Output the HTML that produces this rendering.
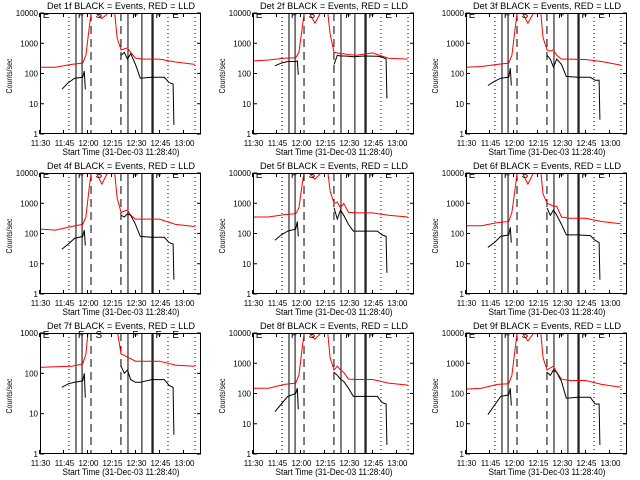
<!DOCTYPE html>
<html><head><meta charset="utf-8"><style>
html,body{margin:0;padding:0;background:#fff;}
svg{display:block;font-family:"Liberation Sans",sans-serif;}
</style></head><body>
<svg id="chart" width="640" height="480" viewBox="0 0 640 480">
<rect x="0" y="0" width="640" height="480" fill="#fff"/>
</svg>
<script>
const detNames = ["1f","2f","3f","4f","5f","6f","7f","8f","9f"];
const yMaxDec = [4,4,4,4,4,4,3,4,4];
const xTickLabels = ["11:30","11:45","12:00","12:15","12:30","12:45","13:00"];
const xTickMins = [0,15,30,45,60,75,90];
const redT = [0,10,20,27,29,31,33,36,39,42,45,46.5,48.5,51,53,55,57,60,65,75,85,97];
const red1 = [160,160,200,220,400,3000,20000,9000,6600,9000,20000,20000,1500,600,650,700,500,320,300,300,240,200];
const red2 = [260,280,320,330,500,3000,20000,9000,4600,9000,20000,20000,2000,500,480,450,450,420,400,480,320,300];
const red3 = [160,170,200,220,400,3000,20000,9000,4600,9000,20000,20000,1500,600,550,600,400,300,300,290,250,190];
const red4 = [140,130,170,200,350,3000,20000,9000,4300,9000,20000,20000,1500,500,550,600,400,300,300,300,200,170];
const red5 = [350,350,420,450,700,4000,20000,9000,6300,9000,20000,20000,2500,1000,1100,700,1000,500,480,480,400,350];
const red6 = [180,180,230,250,500,3000,20000,9000,4300,9000,20000,20000,2000,1000,900,800,800,350,320,320,250,210];
const red7 = [140,145,150,170,300,2000,20000,9000,6000,9000,20000,20000,1200,300,280,250,230,200,200,200,160,150];
const red8 = [150,150,200,220,400,3000,20000,9000,6300,9000,20000,20000,1500,600,800,600,500,300,290,290,220,190];
const red9 = [140,150,200,210,400,3000,20000,9000,5500,9000,20000,20000,1500,600,700,800,500,300,270,270,200,160];
const blkAT = [14,18,22,27,28,28.6];
const blkBT = [51,53,55,57,60,63,70,78,81,83.5,84];
const blkA1 = [30,50,70,75,120,30],   blkB1 = [400,500,300,450,200,70,75,75,50,45,2];
const blkA2 = [180,220,250,250,260,90], blkB2 = [200,400,380,380,370,360,380,370,350,300,15];
const blkA3 = [40,55,70,75,150,40],   blkB3 = [400,300,160,300,200,80,75,75,60,60,3];
const blkA4 = [30,45,70,80,130,40],   blkB4 = [400,350,450,400,200,80,75,75,50,45,3];
const blkA5 = [60,90,120,140,250,80], blkB5 = [700,300,600,400,200,120,120,120,90,80,5];
const blkA6 = [35,50,80,90,160,50],   blkB6 = [700,400,600,400,200,90,90,85,60,50,3];
const blkA7 = [45,55,60,65,100,25],   blkB7 = [150,100,120,70,60,60,70,70,50,45,3];
const blkA8 = [25,45,80,100,150,30],  blkB8 = [500,400,300,250,150,80,80,80,50,45,2];
const blkA9 = [20,40,80,90,150,40],   blkB9 = [500,400,600,500,250,70,75,75,45,45,2];
const redSeries = [red1,red2,red3,red4,red5,red6,red7,red8,red9];
const blkASeries = [blkA1,blkA2,blkA3,blkA4,blkA5,blkA6,blkA7,blkA8,blkA9];
const blkBSeries = [blkB1,blkB2,blkB3,blkB4,blkB5,blkB6,blkB7,blkB8,blkB9];
const vlineT = [18.4,80.3,97.2,22.8,26.6,55.3,64,70.3,71,32.2,50.9];
const vlineStyle = ["dot","dot","dot","solid","solid","solid","solid","solid","solid","dash","dash"];
const markLetters = ["E","F","S","F","F","E"];
const markT = [2,24,35,58,72.5,83];

const NS = "http://www.w3.org/2000/svg";
const svg = document.getElementById("chart");
function mk(tag, attrs, parent){const e=document.createElementNS(NS,tag);for(const k in attrs)e.setAttribute(k,attrs[k]);parent.appendChild(e);return e;}
const L=40,R=201,T=13,B=134;

for(let p=0;p<9;p++){
  const col=p%3,row=Math.floor(p/3);
  const ox=col*213,oy=row*160;
  const g=mk("g",{transform:`translate(${ox},${oy})`},svg);
  
  
  const dec=yMaxDec[p];
  const xS=t=>39.5+1.6*t;
  const yS=v=>B-(B-T)/dec*Math.log10(Math.max(v,0.5));
  const cid="clip"+p;
  const lid="lclip"+p;
  const defs=mk("defs",{},g);
  const cp=mk("clipPath",{id:cid},defs);
  mk("rect",{x:L,y:T,width:R-L,height:B-T},cp);
  const lcp=mk("clipPath",{id:lid},defs);
  mk("rect",{x:L,y:(dec===4?T+1:0),width:R-L,height:30},lcp);
  const plot=mk("g",{"clip-path":`url(#${cid})`},g);
  for(let i=0;i<vlineT.length;i++){
    const x=xS(vlineT[i]);
    const st=vlineStyle[i];
    const ln=mk("line",{x1:x,x2:x,y1:T,y2:B,stroke:"#000","stroke-width":1},plot);
    if(st==="dot")ln.setAttribute("stroke-dasharray","1 3");
    if(st==="dash")ln.setAttribute("stroke-dasharray","8 5");
    
    
  }
  const lg=mk("g",{"clip-path":`url(#${lid})`},g);
  for(let i=0;i<markLetters.length;i++){
    const tx=mk("text",{x:xS(markT[i]),y:18,"font-size":10,fill:"#000"},lg);
    tx.textContent=markLetters[i];
    
    
  }
  const rv=redSeries[p];
  const rpts=redT.map((t,i)=>xS(t).toFixed(1)+","+yS(rv[i]).toFixed(1)).join(" ");
  const rl=mk("polyline",{points:rpts,fill:"none",stroke:"#f00","stroke-width":1},plot);
  
  
  const av=blkASeries[p],bv=blkBSeries[p];
  const apts=blkAT.map((t,i)=>xS(t).toFixed(1)+","+yS(av[i]).toFixed(1)).join(" ");
  const bpts=blkBT.map((t,i)=>xS(t).toFixed(1)+","+yS(bv[i]).toFixed(1)).join(" ");
  const al=mk("polyline",{points:apts,fill:"none",stroke:"#000","stroke-width":1},plot);
  
  
  const bl=mk("polyline",{points:bpts,fill:"none",stroke:"#000","stroke-width":1},plot);
  
  
  const fr=mk("rect",{x:L+0.5,y:T+0.5,width:R-L-1,height:B-T-1,fill:"none",stroke:"#000","stroke-width":1},g);
  
  
  for(let d=0;d<=dec;d++){
    const y=yS(Math.pow(10,d));
    mk("line",{x1:L,x2:L+4,y1:y,y2:y,stroke:"#000"},g);
    mk("line",{x1:R-4,x2:R,y1:y,y2:y,stroke:"#000"},g);
    const lab=String(Math.pow(10,d));
    const tx=mk("text",{x:38,y:y+3,"font-size":8,"text-anchor":"end",fill:"#000"},g);
    tx.textContent=lab;
    
    
  }
  for(let i=0;i<xTickMins.length;i++){
    const x=xS(xTickMins[i]);
    mk("line",{x1:x,x2:x,y1:B,y2:B-4,stroke:"#000"},g);
    mk("line",{x1:x,x2:x,y1:T,y2:T+4,stroke:"#000"},g);
    const tx=mk("text",{x:x+1,y:146,"font-size":8,"text-anchor":"middle",fill:"#000"},g);
    tx.textContent=xTickLabels[i];
    
    
  }
  const title=mk("text",{x:121,y:9,"font-size":9,"text-anchor":"middle",fill:"#000",textLength:148,lengthAdjust:"spacingAndGlyphs"},g);
  title.textContent="Det "+detNames[p]+" BLACK = Events, RED = LLD";
  
  
  const xt=mk("text",{x:121,y:155,"font-size":9,"text-anchor":"middle",fill:"#000",textLength:117,lengthAdjust:"spacingAndGlyphs"},g);
  xt.textContent="Start Time (31-Dec-03 11:28:40)";
  
  
  const yt=mk("text",{x:0,y:0,"font-size":8,"text-anchor":"middle",fill:"#000",transform:"translate(12,76) rotate(-90)",textLength:35,lengthAdjust:"spacingAndGlyphs"},g);
  yt.textContent="Counts/sec";
  
  
}
</script>
</body></html>
